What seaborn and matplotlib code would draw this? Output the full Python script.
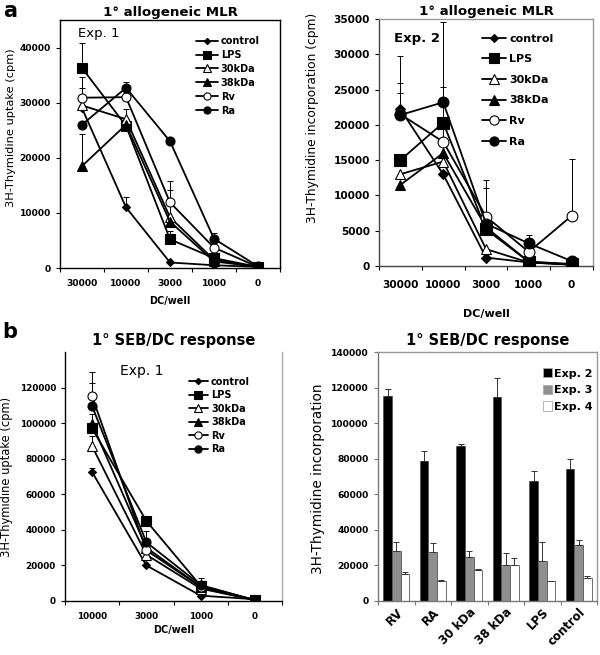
import numpy as np
import pandas as pd
import matplotlib
matplotlib.use("Agg")
import matplotlib.pyplot as plt
import seaborn as sns

sns.set_theme(style="white")
plt.rcParams['font.family'] = ['DejaVu Sans']
plt.rcParams['text.color'] = 'black'
plt.rcParams['axes.labelcolor'] = 'black'
plt.rcParams['xtick.color'] = 'black'
plt.rcParams['ytick.color'] = 'black'

# ---------------- data ----------------
series = ["control", "LPS", "30kDa", "38kDa", "Rv", "Ra"]

# Panel a, Exp. 1
dc_a = ["30000", "10000", "3000", "1000", "0"]
a1_control = [29000, 11000, 1000, 500, 200]
a1_lps     = [36300, 25800, 5200, 1800, 200]
a1_30kda   = [29500, 27000, 9200, 1500, 200]
a1_38kda   = [18500, 26000, 8400, 1200, 200]
a1_rv      = [30900, 31000, 11900, 3700, 200]
a1_ra      = [26000, 32700, 23000, 5300, 300]
a1_err_control = [0, 1800, 0, 0, 0]
a1_err_lps     = [4500, 0, 1600, 0, 0]
a1_err_30kda   = [3100, 1800, 5000, 0, 0]
a1_err_38kda   = [5800, 0, 0, 0, 0]
a1_err_rv      = [3700, 0, 3800, 0, 0]
a1_err_ra      = [0, 1100, 0, 1000, 0]

# Panel a, Exp. 2
a2_control = [22200, 13000, 1200, 500, 200]
a2_lps     = [15000, 20300, 5200, 600, 300]
a2_30kda   = [13000, 14800, 2400, 500, 200]
a2_38kda   = [11500, 16000, 5500, 600, 200]
a2_rv      = [21500, 17600, 7000, 2000, 7100]
a2_ra      = [21400, 23200, 6000, 3200, 700]
a2_err_control = [2300, 0, 0, 0, 0]
a2_err_lps     = [0, 0, 0, 0, 0]
a2_err_30kda   = [0, 0, 0, 0, 0]
a2_err_38kda   = [0, 0, 0, 0, 0]
a2_err_rv      = [8200, 17000, 5200, 0, 8000]
a2_err_ra      = [4600, 2100, 5000, 1200, 0]

# Panel b, Exp. 1
dc_b = ["10000", "3000", "1000", "0"]
b1_control = [72500, 20000, 3000, 1000]
b1_lps     = [97000, 45000, 8500, 500]
b1_30kda   = [87000, 26000, 7000, 500]
b1_38kda   = [99500, 30000, 8000, 500]
b1_rv      = [115000, 28500, 8000, 500]
b1_ra      = [109500, 33000, 9000, 500]
b1_err_control = [2500, 0, 0, 0]
b1_err_lps     = [8000, 0, 4500, 0]
b1_err_30kda   = [6000, 0, 0, 0]
b1_err_38kda   = [0, 0, 0, 0]
b1_err_rv      = [14000, 0, 0, 0]
b1_err_ra      = [13000, 6500, 0, 0]

# Panel b, Exp. 2-4 bars
bar_groups = ["RV", "RA", "30 kDa", "38 kDa", "LPS", "control"]
exps = ["Exp. 2", "Exp. 3", "Exp. 4"]
exp2 = [115000, 78500, 87000, 114500, 67500, 74300]
exp3 = [28000, 27500, 24500, 20000, 22500, 31500]
exp4 = [15200, 11000, 17400, 20000, 11000, 13000]
exp2_err = [4000, 6000, 1500, 11000, 5800, 5700]
exp3_err = [5400, 5200, 3800, 6800, 10800, 3000]
exp4_err = [1300, 800, 500, 4000, 500, 1000]

# ---------------- styles ----------------
marker_style = {
    "control": dict(marker="D", mfc="black", ms=4),
    "LPS":     dict(marker="s", mfc="black", ms=7),
    "30kDa":   dict(marker="^", mfc="white", ms=6.5),
    "38kDa":   dict(marker="^", mfc="black", ms=6.5),
    "Rv":      dict(marker="o", mfc="white", ms=6.5),
    "Ra":      dict(marker="o", mfc="black", ms=6.5),
}

W, H = 600, 655
fig = plt.figure(figsize=(W / 100, H / 100), dpi=100)


def rect(x0, y0, x1, y1):
    return [x0 / W, 1 - y1 / H, (x1 - x0) / W, (y1 - y0) / H]


def line_panel(ax, dc, vals, errs, ms_scale, lw):
    for name, v, e in zip(series, vals, errs):
        df = pd.DataFrame({"dc": dc, "val": v})
        st = dict(marker_style[name])
        st["ms"] = st["ms"] * ms_scale
        sns.lineplot(data=df, x="dc", y="val", ax=ax, color="black", sort=False,
                     lw=lw, mec="black", mew=0.8, label=name, zorder=3, **st)
        e = np.array(e)
        mask = e > 0
        xs = np.arange(len(dc))[mask]
        ax.errorbar(xs, np.array(v)[mask], yerr=[np.zeros(mask.sum()), e[mask]],
                    fmt="none", ecolor="black", elinewidth=0.7, capsize=2,
                    capthick=0.7, zorder=2)
    n = len(dc)
    ax.set_xlim(-0.5, n - 0.5)
    ax.set_xticks(range(n))
    ax.set_xticklabels(dc)
    ax.set_xticks(np.arange(-0.5, n, 1.0), minor=True)
    ax.tick_params(axis="x", which="major", length=0)
    ax.tick_params(axis="x", which="minor", length=3, width=0.8, color="black", direction="out", bottom=True)
    ax.tick_params(axis="y", length=3, width=0.8, color="black", direction="out", left=True)


def style_spines(ax, main="black", other="#999999"):
    for s in ["left", "bottom"]:
        ax.spines[s].set_color(main)
        ax.spines[s].set_linewidth(1.0)
    for s in ["top", "right"]:
        ax.spines[s].set_color(other)
        ax.spines[s].set_linewidth(1.0)


# ---- a left ----
ax1 = fig.add_axes(rect(60, 20, 280, 268))
line_panel(ax1, dc_a, [a1_control, a1_lps, a1_30kda, a1_38kda, a1_rv, a1_ra],
           [a1_err_control, a1_err_lps, a1_err_30kda, a1_err_38kda, a1_err_rv, a1_err_ra], 1.0, 1.3)
ax1.set_ylim(0, 45000)
ax1.set_yticks([0, 10000, 20000, 30000, 40000])
style_spines(ax1, "black", "black")
for lab in ax1.get_xticklabels() + ax1.get_yticklabels():
    lab.set_fontweight("bold"); lab.set_fontsize(6.6)
ax1.tick_params(axis="x", pad=8)
ax1.set_xlabel("DC/well", fontsize=7, fontweight="bold", labelpad=6)
ax1.set_ylabel("3H-Thymidine uptake (cpm)", fontsize=8.2)
ax1.yaxis.set_label_coords(-0.2, 0.565)
ax1.set_title("1° allogeneic MLR", fontsize=9.6, fontweight="bold", pad=3)
ax1.text(0.08, 0.945, "Exp. 1", transform=ax1.transAxes, fontsize=9.5, va="center", ha="left")
ax1.legend(loc="upper left", bbox_to_anchor=(0.62, 0.935), frameon=False, borderpad=0,
           borderaxespad=0, handlelength=2.2, handletextpad=0.3, labelspacing=0.4,
           markerscale=0.8, prop=dict(size=7, weight="bold"))

# ---- a right ----
ax2 = fig.add_axes(rect(379, 19, 593, 266))
line_panel(ax2, dc_a, [a2_control, a2_lps, a2_30kda, a2_38kda, a2_rv, a2_ra],
           [a2_err_control, a2_err_lps, a2_err_30kda, a2_err_38kda, a2_err_rv, a2_err_ra], 1.2, 1.3)
ax2.set_ylim(0, 35000)
ax2.set_yticks(range(0, 35001, 5000))
style_spines(ax2, "#444444", "#999999")
for lab in ax2.get_xticklabels() + ax2.get_yticklabels():
    lab.set_fontweight("bold"); lab.set_fontsize(7.6)
ax2.tick_params(axis="x", pad=10)
ax2.set_xlabel("DC/well", fontsize=8, fontweight="bold", labelpad=14)
ax2.set_ylabel("3H-Thymidine incorporation (cpm)", fontsize=8.8)
ax2.yaxis.set_label_coords(-0.28, 0.6)
ax2.set_title("1° allogeneic MLR", fontsize=9.6, fontweight="bold", pad=3)
ax2.text(0.07, 0.92, "Exp. 2", transform=ax2.transAxes, fontsize=9.5, fontweight="bold", va="center", ha="left")
ax2.legend(loc="upper left", bbox_to_anchor=(0.48, 0.94), frameon=False, borderpad=0,
           borderaxespad=0, handlelength=2.2, handletextpad=0.3, labelspacing=0.95,
           markerscale=0.85, prop=dict(size=8, weight="bold"))

# ---- b left ----
ax3 = fig.add_axes(rect(65, 352, 282, 601))
line_panel(ax3, dc_b, [b1_control, b1_lps, b1_30kda, b1_38kda, b1_rv, b1_ra],
           [b1_err_control, b1_err_lps, b1_err_30kda, b1_err_38kda, b1_err_rv, b1_err_ra], 1.0, 1.3)
ax3.set_ylim(0, 140000)
ax3.set_yticks(range(0, 120001, 20000))
style_spines(ax3, "black", "#aaaaaa")
ax3.spines["top"].set_visible(False)
for lab in ax3.get_xticklabels() + ax3.get_yticklabels():
    lab.set_fontweight("bold"); lab.set_fontsize(6.4)
ax3.tick_params(axis="x", pad=8)
ax3.set_xlabel("DC/well", fontsize=7, fontweight="bold", labelpad=3)
ax3.set_ylabel("3H-Thymidine uptake (cpm)", fontsize=8.3)
ax3.yaxis.set_label_coords(-0.24, 0.5)
ax3.set_title("1° SEB/DC response", fontsize=10.5, fontweight="bold", pad=5)
ax3.text(0.255, 0.925, "Exp. 1", transform=ax3.transAxes, fontsize=10, va="center", ha="left")
ax3.legend(loc="upper left", bbox_to_anchor=(0.57, 0.9), frameon=False, borderpad=0,
           borderaxespad=0, handlelength=2.0, handletextpad=0.3, labelspacing=0.35,
           markerscale=0.8, prop=dict(size=7, weight="bold"))

# ---- b right ----
ax4 = fig.add_axes(rect(378, 352, 597, 601))
dfb = pd.DataFrame({
    "group": bar_groups * 3,
    "exp": [exps[0]] * 6 + [exps[1]] * 6 + [exps[2]] * 6,
    "val": exp2 + exp3 + exp4,
})
sns.barplot(data=dfb, x="group", y="val", hue="exp", ax=ax4, errorbar=None,
            palette=["black", "#8f8f8f", "white"], width=0.7, saturation=1,
            edgecolor="#555555", linewidth=0.6)
errs = [exp2_err, exp3_err, exp4_err]
vals = [exp2, exp3, exp4]
bar_conts = list(ax4.containers)
for ci, cont in enumerate(bar_conts):
    xs = [p.get_x() + p.get_width() / 2 for p in cont.patches]
    ax4.errorbar(xs, vals[ci], yerr=[np.zeros(6), errs[ci]], fmt="none",
                 ecolor="#333333", elinewidth=0.7, capsize=2, capthick=0.7)
ax4.set_xlim(-0.5, 5.5)
ax4.set_ylim(0, 140000)
ax4.set_yticks(range(0, 140001, 20000))
ax4.set_xticks(np.arange(-0.5, 6, 1.0), minor=True)
ax4.tick_params(axis="x", which="major", length=0)
ax4.tick_params(axis="x", which="minor", length=3, width=0.8, color="#777777", direction="out", bottom=True)
ax4.tick_params(axis="y", length=3, width=0.8, color="#777777", direction="out", left=True)
style_spines(ax4, "#777777", "#999999")
ax4.set_xticks(range(6))
ax4.set_xticklabels(bar_groups, rotation=45, ha="right", rotation_mode="anchor",
                    fontsize=8.5, fontweight="bold")
for lab in ax4.get_yticklabels():
    lab.set_fontweight("bold"); lab.set_fontsize(6.6)
ax4.set_xlabel("")
ax4.set_ylabel("3H-Thymidine incorporation", fontsize=9.8)
ax4.yaxis.set_label_coords(-0.24, 0.49)
ax4.set_title("1° SEB/DC response", fontsize=10.5, fontweight="bold", pad=5)
leg = ax4.legend(loc="upper left", bbox_to_anchor=(0.755, 0.935), frameon=False, borderpad=0,
                 borderaxespad=0, handlelength=0.8, handleheight=0.9, handletextpad=0.2,
                 labelspacing=0.55, prop=dict(size=8, weight="bold"))
for h in leg.get_patches():
    h.set_edgecolor("#aaaaaa")

fig.text(3 / W, 1 - 11 / H, "a", fontsize=15, fontweight="bold", va="center", ha="left")
fig.text(2 / W, 1 - 332 / H, "b", fontsize=15, fontweight="bold", va="center", ha="left")

fig.savefig("out.png", dpi=100)
